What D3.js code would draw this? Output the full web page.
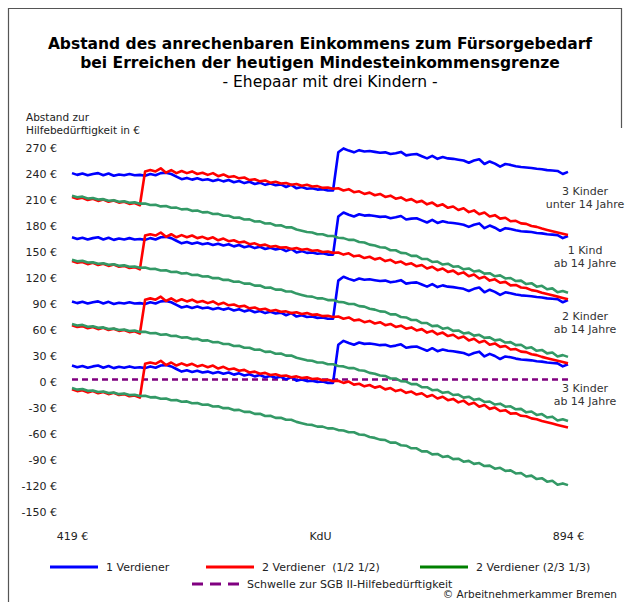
<!DOCTYPE html>
<html>
<head>
<meta charset="utf-8">
<script src="https://cdn.jsdelivr.net/npm/d3@7"></script>
<style>
  body { margin: 0; background: #fff; }
  text { font-family: "DejaVu Sans", Verdana, sans-serif; }
</style>
</head>
<body>
<div id="main"></div>
<script>
/*********************************************************
 * Data
 *********************************************************/

// KdU in Euro, one point every 5 Euro
const kdu = [
  419, 424, 429, 434, 439, 444, 449, 454, 459, 464, 469, 474, 479, 484, 489, 494,
  499, 504, 509, 514, 519, 524, 529, 534, 539, 544, 549, 554, 559, 564, 569, 574,
  579, 584, 589, 594, 599, 604, 609, 614, 619, 624, 629, 634, 639, 644, 649, 654,
  659, 664, 669, 674, 679, 684, 689, 694, 699, 704, 709, 714, 719, 724, 729, 734,
  739, 744, 749, 754, 759, 764, 769, 774, 779, 784, 789, 794, 799, 804, 809, 814,
  819, 824, 829, 834, 839, 844, 849, 854, 859, 864, 869, 874, 879, 884, 889, 894
];

// 1 Verdiener, 3 Kinder unter 14 Jahre
const oneEarner = [
  241, 239, 240.5, 238.5, 240, 241, 238.5, 240.5, 238, 239.5, 238.5, 240, 238.5, 239, 238, 240,
  238.5, 241, 241.5, 240, 237, 234, 235.5, 233.5, 235, 233, 234, 232, 233.5, 231.5, 233, 230.5,
  232, 229.5, 231, 228.5, 230, 227.5, 229, 227, 228, 225, 227.5, 223.5, 225, 223, 223.5, 222,
  222.5, 221, 221, 265, 269.5, 267, 265, 267.5, 266, 266.5, 265.5, 264.5, 265, 263, 264, 265.5,
  261.5, 262.5, 263, 260.5, 258, 261, 257.5, 259.5, 258, 257.5, 256.5, 255.5, 253, 255.5, 257, 251.5,
  254.5, 252, 248.5, 251.5, 250.5, 249, 248, 247.5, 247, 246, 245.5, 244.5, 244, 243.5, 240, 242.5
];

// 2 Verdiener (1/2 1/2), 3 Kinder unter 14 Jahre
const twoEarnersHalf = [
  213.5, 211.5, 212.5, 210, 211.5, 209, 210.5, 208, 209.5, 207, 208, 205.5, 206.5, 204, 243, 244.5,
  243, 246.5, 241.5, 244.5, 241, 243.5, 241, 243, 240, 241.5, 239, 241, 237.5, 239.5, 236.5, 237.5,
  235, 236, 233, 234, 231.5, 232.5, 230, 231, 229, 229.5, 227.5, 228.5, 226.5, 227.5, 225.5, 226,
  224, 224.5, 223, 223.5, 221, 222.5, 219, 220, 217, 218.5, 215.5, 217, 213.5, 215, 211.5, 213,
  209.5, 211, 207.5, 209, 205, 207, 203, 205, 201, 202.5, 198.5, 200.5, 196, 198, 193.5, 195.5,
  191, 192.5, 188.5, 189.5, 185.5, 186, 183, 182.5, 180, 179, 177, 175.5, 174, 172.5, 171, 169.5
];

// 2 Verdiener (2/3 1/3), 3 Kinder unter 14 Jahre
const twoEarnersThird = [
  215, 213.2, 213.9, 211.8, 212.2, 210.5, 211, 209.2, 209.8, 208, 208.6, 206.9, 207.3, 205.8, 206, 204.3,
  204.5, 202.6, 203, 201, 201.2, 199.2, 199.6, 197.5, 197.8, 195.7, 196, 193.8, 194, 191.8, 191.8, 189.6,
  189.8, 187.5, 187.6, 185.2, 185.3, 182.8, 183, 180.6, 180.8, 178.4, 178.5, 176, 174.5, 173, 172.5, 170.5,
  170.5, 168.5, 168.5, 166.5, 166, 164, 164, 161.5, 161, 158.5, 157.5, 155.5, 155, 152, 152, 149,
  148.5, 145.5, 145.5, 142, 142, 138.5, 139, 135.5, 136.5, 133, 133.5, 130, 131, 127.5, 128.5, 125,
  125.5, 122, 123, 119.5, 120, 116.5, 117, 113, 114, 110, 111, 107, 108, 103.5, 105, 103
];

// shift of each child constellation against "3 Kinder unter 14 Jahre"
const groupShift = [0, -74, -148, -222];
const groupNotes = [
  ['3 Kinder', 'unter 14 Jahre'],
  ['1 Kind', 'ab 14 Jahre'],
  ['2 Kinder', 'ab 14 Jahre'],
  ['3 Kinder', 'ab 14 Jahre']
];

const threshold = 3;
const yTicks = [270, 240, 210, 180, 150, 120, 90, 60, 30, 0, -30, -60, -90, -120, -150];
const xTickValues = [419, 656.5, 894];
const xTickLabels = ['419 €', 'KdU', '894 €'];

const seriesNames = ['1 Verdiener', '2 Verdiener  (1/2 1/2)', '2 Verdiener (2/3 1/3)'];
const seriesData = [oneEarner, twoEarnersHalf, twoEarnersThird];

/*********************************************************
 * Layout
 *********************************************************/
const svgWidth = 628;
const svgHeight = 602;
const lineColors = ['#0000ff', '#ff0000', '#339966'];
const legendColors = ['#0000ff', '#ff0000', '#008000'];
const purple = '#800080';

const svg = d3
  .select('#main')
  .append('svg')
  .attr('width', svgWidth)
  .attr('height', svgHeight);

// frame
svg.append('path')
  .attr('d', 'M8.5,602 V8.5 H621.5 V128')
  .attr('fill', 'none')
  .attr('stroke', '#555')
  .attr('stroke-width', 1.2);

// titles
const title = svg.append('g').attr('text-anchor', 'middle');
title.append('text')
  .attr('x', 320).attr('y', 49)
  .style('font-size', '15.5px').style('font-weight', 'bold')
  .text('Abstand des anrechenbaren Einkommens zum Fürsorgebedarf');
title.append('text')
  .attr('x', 320).attr('y', 68)
  .style('font-size', '15.5px').style('font-weight', 'bold')
  .text('bei Erreichen der heutigen Mindesteinkommensgrenze');
title.append('text')
  .attr('x', 330).attr('y', 87)
  .style('font-size', '15.5px')
  .text('- Ehepaar mit drei Kindern -');

svg.append('text')
  .attr('x', 26).attr('y', 121)
  .style('font-size', '10.5px').attr('fill', '#222')
  .text('Abstand zur');
svg.append('text')
  .attr('x', 26).attr('y', 134)
  .style('font-size', '10.5px').attr('fill', '#222')
  .text('Hilfebedürftigkeit in €');

/*********************************************************
 * Scales and axes
 *********************************************************/
const x = d3.scaleLinear().domain([419, 894]).range([72, 568]);
const y = d3.scaleLinear().domain([-150, 270]).range([512, 148]);

const yAxis = d3.axisLeft(y)
  .tickValues(yTicks)
  .tickFormat(d => d + ' €')
  .tickSize(0)
  .tickPadding(0);

svg.append('g')
  .attr('class', 'y axis')
  .attr('transform', 'translate(57,0)')
  .call(yAxis)
  .call(g => g.select('.domain').remove())
  .selectAll('text')
  .style('font-size', '11px')
  .style('font-family', '"DejaVu Sans", Verdana, sans-serif')
  .attr('fill', '#222');

const xAxis = d3.axisBottom(x)
  .tickValues(xTickValues)
  .tickFormat((d, i) => xTickLabels[i])
  .tickSize(0)
  .tickPadding(0);

svg.append('g')
  .attr('class', 'x axis')
  .attr('transform', 'translate(0,532)')
  .call(xAxis)
  .call(g => g.select('.domain').remove())
  .selectAll('text')
  .style('font-size', '11px')
  .style('font-family', '"DejaVu Sans", Verdana, sans-serif')
  .attr('fill', '#222');

/*********************************************************
 * Lines
 *********************************************************/
const plot = svg.append('g').attr('class', 'plot');

const line = d3.line()
  .x((d, i) => x(kdu[i]))
  .y(d => y(d));

// threshold line (drawn first, lines pass over it)
plot.append('line')
  .attr('x1', x(419)).attr('x2', x(894))
  .attr('y1', y(threshold)).attr('y2', y(threshold))
  .attr('stroke', purple)
  .attr('stroke-width', 2.5)
  .attr('stroke-dasharray', '6,4');

seriesData.forEach((values, s) => {
  groupShift.forEach(shift => {
    plot.append('path')
      .datum(values.map(v => v + shift))
      .attr('class', 'link')
      .attr('d', line)
      .attr('fill', 'none')
      .attr('stroke', lineColors[s])
      .attr('stroke-width', 2.6)
      .attr('stroke-linejoin', 'round');
  });
});

// notes at the right end
const noteBase = [195, 254, 320, 392];
groupNotes.forEach((lines, g) => {
  const t = svg.append('text')
    .attr('text-anchor', 'middle')
    .style('font-size', '11px')
    .attr('fill', '#333');
  lines.forEach((s, k) => {
    t.append('tspan')
      .attr('x', 585)
      .attr('y', noteBase[g] + k * 13)
      .text(s);
  });
});

/*********************************************************
 * Legend
 *********************************************************/
const legendPos = [[50, 567], [206, 567], [420, 567]];
seriesNames.forEach((name, i) => {
  const lg = svg.append('g')
    .attr('transform', 'translate(' + legendPos[i] + ')');
  lg.append('line')
    .attr('x1', 0).attr('x2', 48)
    .attr('stroke', legendColors[i])
    .attr('stroke-width', 3);
  lg.append('text')
    .attr('x', 56).attr('y', 4)
    .style('font-size', '11px')
    .attr('fill', '#222')
    .style('white-space', 'pre')
    .text(name);
});

const th = svg.append('g').attr('transform', 'translate(192,584)');
th.append('line')
  .attr('x1', 0).attr('x2', 48)
  .attr('stroke', purple)
  .attr('stroke-width', 3)
  .attr('stroke-dasharray', '11,7');
th.append('text')
  .attr('x', 55).attr('y', 4)
  .style('font-size', '11px')
  .attr('fill', '#222')
  .text('Schwelle zur SGB II-Hilfebedürftigkeit');

svg.append('text')
  .attr('x', 617).attr('y', 598)
  .attr('text-anchor', 'end')
  .style('font-size', '10.5px')
  .attr('fill', '#222')
  .text('© Arbeitnehmerkammer Bremen');
</script>
</body>
</html>
